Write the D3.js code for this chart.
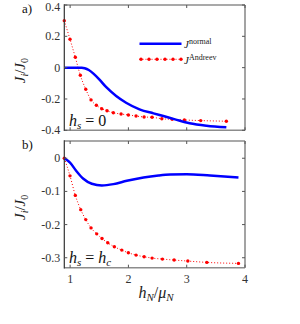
<!DOCTYPE html>
<html>
<head>
<meta charset="utf-8">
<script src="https://cdn.jsdelivr.net/npm/d3@7"></script>
<style>
html,body{margin:0;padding:0;background:#fff;}
svg{display:block;}
text{font-family:"Liberation Serif","Times New Roman",serif;}
</style>
</head>
<body>
<div id="chart"></div>
<script>
// ---- data ----
const xTicks = [1, 2, 3, 4];
const yTicksA = [0.4, 0.2, 0, -0.2, -0.4];
const yTickLabelsA = ["0.4", "0.2", "0", "-0.2", "-0.4"];
const yTicksB = [0, -0.1, -0.2, -0.3];
const yTickLabelsB = ["0", "-0.1", "-0.2", "-0.3"];

// panel a) J^normal
const aNormalX = [0.9, 1.0, 1.1, 1.2, 1.25, 1.32, 1.4, 1.5, 1.62, 1.79, 1.96, 2.19, 2.43, 2.6, 2.8, 3.05, 3.34, 3.68];
const aNormalY = [0, 0, 0, -0.001, -0.004, -0.015, -0.038, -0.075, -0.125, -0.181, -0.224, -0.266, -0.292, -0.309, -0.33, -0.355, -0.371, -0.381];
// panel a) J^Andreev
const aAndreevX = [0.9, 0.998, 1.089, 1.175, 1.268, 1.359, 1.45, 1.542, 1.633, 1.741, 1.874, 1.999, 2.131, 2.269, 2.406, 2.573, 2.75, 2.96, 3.24, 3.68];
const aAndreevY = [0.300, 0.181, 0.066, -0.049, -0.138, -0.206, -0.240, -0.262, -0.275, -0.288, -0.296, -0.302, -0.309, -0.315, -0.317, -0.326, -0.330, -0.334, -0.338, -0.342];
// panel b) J^normal
const bNormalX = [0.9, 0.998, 1.113, 1.227, 1.372, 1.544, 1.743, 1.973, 2.259, 2.516, 2.716, 3.0, 3.4, 3.888];
const bNormalY = [0, -0.013, -0.040, -0.062, -0.077, -0.082, -0.078, -0.068, -0.058, -0.052, -0.049, -0.048, -0.052, -0.058];
// panel b) J^Andreev
const bAndreevX = [0.9, 0.998, 1.089, 1.182, 1.268, 1.359, 1.456, 1.547, 1.645, 1.759, 1.886, 1.999, 2.131, 2.269, 2.406, 2.583, 2.784, 3.019, 3.345, 3.888];
const bAndreevY = [0, -0.053, -0.112, -0.155, -0.185, -0.210, -0.228, -0.242, -0.255, -0.267, -0.277, -0.285, -0.292, -0.297, -0.301, -0.304, -0.307, -0.310, -0.314, -0.317];

const W = 300, H = 324;
const svg = d3.select("#chart").append("svg").attr("width", W).attr("height", H);

const x = d3.scaleLinear().domain([0.9, 4]).range([64.3, 245]);
const yA = d3.scaleLinear().domain([-0.4, 0.4]).range([130.3, 5]);
const yB = d3.scaleLinear().domain([-0.33, 0.052]).range([267.7, 141]);

const blue = "#0000ff", red = "#ff0000";

function panel(y, yTicks, yLabels, normX, normY, andX, andY, showXLabels) {
  const g = svg.append("g");
  const [x0, x1] = x.range();
  const [y0, y1] = y.range(); // y0 bottom, y1 top
  const line = d3.line().x(d => x(d[0])).y(d => y(d[1])).curve(d3.curveMonotoneX);
  const nd = normX.map((v, i) => [v, normY[i]]);
  const ad = andX.map((v, i) => [v, andY[i]]);
  g.append("path").datum(ad).attr("d", line).attr("fill", "none")
    .attr("stroke", red).attr("stroke-width", 1).attr("stroke-dasharray", "1,2");
  g.selectAll("circle.m").data(ad).enter().append("circle")
    .attr("cx", d => x(d[0])).attr("cy", d => y(d[1])).attr("r", 1.7).attr("fill", red);
  g.append("path").datum(nd).attr("d", line).attr("fill", "none")
    .attr("stroke", blue).attr("stroke-width", 2.5);

  // box
  g.append("line").attr("x1", x0).attr("x2", x1).attr("y1", y1).attr("y2", y1).attr("stroke", "#8c8c8c").attr("stroke-width", 1.6);
  g.append("line").attr("x1", x1).attr("x2", x1).attr("y1", y1).attr("y2", y0).attr("stroke", "#8c8c8c").attr("stroke-width", 1.6);
  g.append("line").attr("x1", x0).attr("x2", x1).attr("y1", y0).attr("y2", y0).attr("stroke", "#8c8c8c").attr("stroke-width", 1.6);
  g.append("line").attr("x1", x0).attr("x2", x0).attr("y1", y1 - 0.8).attr("y2", y0 + 0.8).attr("stroke", "#333").attr("stroke-width", 1.2);

  // ticks
  xTicks.forEach(t => {
    g.append("line").attr("x1", x(t)).attr("x2", x(t)).attr("y1", y0).attr("y2", y0 - 3).attr("stroke", "#555").attr("stroke-width", 1);
    g.append("line").attr("x1", x(t)).attr("x2", x(t)).attr("y1", y1).attr("y2", y1 + 3).attr("stroke", "#555").attr("stroke-width", 1);
    if (showXLabels) {
      g.append("text").attr("x", x(t)).attr("y", y0 + 15.5).attr("text-anchor", "middle")
        .attr("font-size", 12).attr("fill", "#333").text(t);
    }
  });
  yTicks.forEach((t, i) => {
    g.append("line").attr("x1", x0).attr("x2", x0 + 3).attr("y1", y(t)).attr("y2", y(t)).attr("stroke", "#555").attr("stroke-width", 1);
    g.append("line").attr("x1", x1).attr("x2", x1 - 3).attr("y1", y(t)).attr("y2", y(t)).attr("stroke", "#555").attr("stroke-width", 1);
    g.append("text").attr("x", x0 - 4).attr("y", Math.max(y(t) + 4, 11)).attr("text-anchor", "end")
      .attr("font-size", 12).attr("fill", "#333").text(yLabels[i]);
  });
  // y label
  const cy = (y0 + y1) / 2;
  const yl = g.append("text").attr("transform", `translate(25,${cy + 3}) rotate(-90)`)
    .attr("text-anchor", "middle").attr("font-size", 15).attr("fill", "#222");
  yl.append("tspan").attr("font-style", "italic").text("J");
  yl.append("tspan").attr("font-style", "italic").attr("font-size", 10).attr("dy", 3).text("i");
  yl.append("tspan").attr("dy", -3).text("/");
  yl.append("tspan").attr("font-style", "italic").text("J");
  yl.append("tspan").attr("font-size", 10).attr("dy", 3).text("0");
  return g;
}

panel(yA, yTicksA, yTickLabelsA, aNormalX, aNormalY, aAndreevX, aAndreevY, false);
panel(yB, yTicksB, yTickLabelsB, bNormalX, bNormalY, bAndreevX, bAndreevY, true);

// panel letters
svg.append("text").attr("x", 22).attr("y", 12.5).attr("font-size", 13).attr("fill", "#111").text("a)");
svg.append("text").attr("x", 22).attr("y", 148.5).attr("font-size", 13).attr("fill", "#111").text("b)");

// annotations
function hs(yPos, sub) {
  const t = svg.append("text").attr("x", 69).attr("y", yPos).attr("font-size", 16).attr("fill", "#111");
  t.append("tspan").attr("font-style", "italic").text("h");
  t.append("tspan").attr("font-style", "italic").attr("font-size", 11).attr("dy", 3).text("s");
  t.append("tspan").attr("dy", -3).text(" = ");
  if (sub) {
    t.append("tspan").attr("font-style", "italic").text("h");
    t.append("tspan").attr("font-style", "italic").attr("font-size", 11).attr("dy", 3).text("c");
  } else {
    t.append("tspan").text("0");
  }
}
hs(125.5, false);
hs(262.5, true);

// x label
const xl = svg.append("text").attr("x", 156).attr("y", 298).attr("text-anchor", "middle").attr("font-size", 16).attr("fill", "#222");
xl.append("tspan").attr("font-style", "italic").text("h");
xl.append("tspan").attr("font-style", "italic").attr("font-size", 11).attr("dy", 3).text("N");
xl.append("tspan").attr("dy", -3).text("/");
xl.append("tspan").attr("font-style", "italic").text("μ");
xl.append("tspan").attr("font-style", "italic").attr("font-size", 11).attr("dy", 3).text("N");

// legend
const lg = svg.append("g");
lg.append("line").attr("x1", 139.5).attr("x2", 181.5).attr("y1", 43.7).attr("y2", 43.7).attr("stroke", blue).attr("stroke-width", 2.5);
lg.append("line").attr("x1", 139.5).attr("x2", 181.5).attr("y1", 59.3).attr("y2", 59.3).attr("stroke", red).attr("stroke-width", 1).attr("stroke-dasharray", "1,2");
lg.selectAll("circle").data(d3.range(6)).enter().append("circle")
  .attr("cx", d => 141 + d * 8).attr("cy", 59.3).attr("r", 1.7).attr("fill", red);
const t1 = lg.append("text").attr("x", 184).attr("y", 48).attr("font-size", 11).attr("fill", "#222");
t1.append("tspan").attr("font-style", "italic").text("J");
t1.append("tspan").attr("font-size", 8).attr("dy", -4).text("normal");
const t2 = lg.append("text").attr("x", 184).attr("y", 63.5).attr("font-size", 11).attr("fill", "#222");
t2.append("tspan").attr("font-style", "italic").text("J");
t2.append("tspan").attr("font-size", 8).attr("dy", -4).text("Andreev");
</script>
</body>
</html>
